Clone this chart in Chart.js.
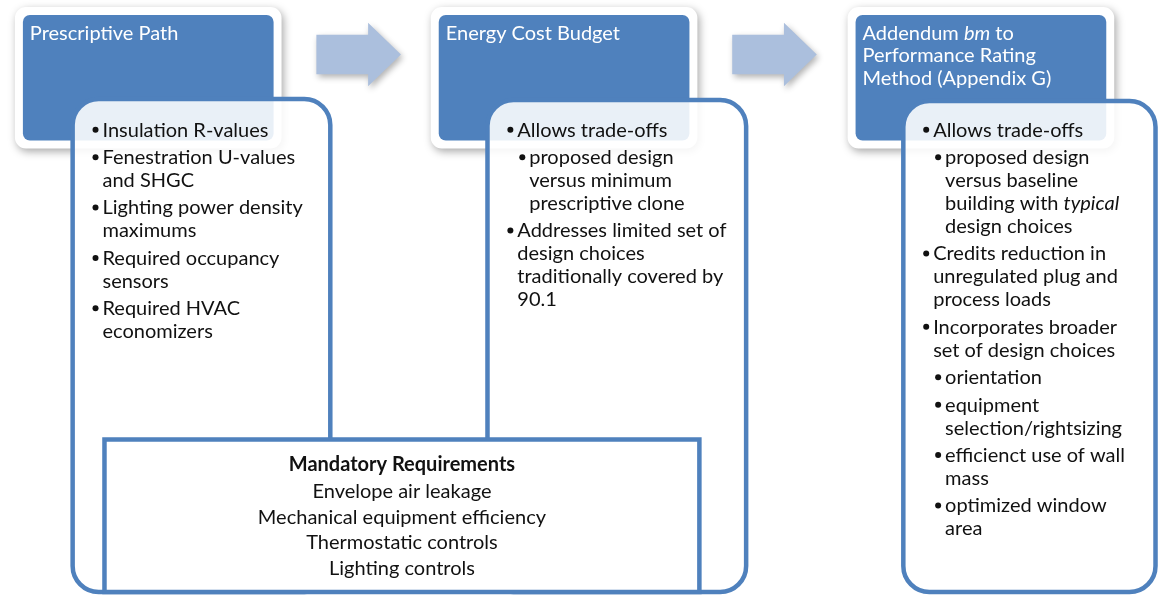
<!DOCTYPE html>
<html>
<head>
<meta charset="utf-8">
<script src="https://cdn.jsdelivr.net/npm/chart.js@4/dist/chart.umd.min.js"></script>
<style>
    html, body { margin: 0; padding: 0; background: #ffffff; }
    #wrap { width: 1161px; height: 599px; }
</style>
</head>
<body>
<div id="wrap"><canvas id="diagram" width="1161" height="599"></canvas></div>
<script>
// Text content of the diagram (italic runs marked with *...*)
const stageTitles = [
    ['Prescriptive Path'],
    ['Energy Cost Budget'],
    ['Addendum *bm* to', 'Performance Rating', 'Method (Appendix G)']
];

// each entry: [indent level, wrapped lines]
const prescriptiveItems = [
    [0, ['Insulation R-values']],
    [0, ['Fenestration U-values', 'and SHGC']],
    [0, ['Lighting power density', 'maximums']],
    [0, ['Required occupancy', 'sensors']],
    [0, ['Required HVAC', 'economizers']]
];
const ecbItems = [
    [0, ['Allows trade-offs']],
    [1, ['proposed design', 'versus minimum', 'prescriptive clone']],
    [0, ['Addresses limited set of', 'design choices', 'traditionally covered by', '90.1']]
];
const appendixGItems = [
    [0, ['Allows trade-offs']],
    [1, ['proposed design', 'versus baseline', 'building with *typical*', 'design choices']],
    [0, ['Credits reduction in', 'unregulated plug and', 'process loads']],
    [0, ['Incorporates broader', 'set of design choices']],
    [1, ['orientation']],
    [1, ['equipment', 'selection/rightsizing']],
    [1, ['efficienct use of wall', 'mass']],
    [1, ['optimized window', 'area']]
];
const stageItems = [prescriptiveItems, ecbItems, appendixGItems];

const mandatoryTitle = 'Mandatory Requirements';
const mandatoryItems = [
    'Envelope air leakage',
    'Mechanical equipment efficiency',
    'Thermostatic controls',
    'Lighting controls'
];

// Layout (in scale units, same as pixels here)
const W = 1161, H = 599;
const headerBoxes = [
    { x: 12, y: 4, w: 268, h: 143 },
    { x: 430, y: 4, w: 268, h: 143 },
    { x: 849, y: 4, w: 268, h: 143 }
];
const contentBoxes = [
    { x: 70, y: 97, w: 259, h: 498 },
    { x: 487, y: 98, w: 260, h: 497 },
    { x: 905, y: 99, w: 253.5, h: 496 }
];
const mandatoryBox = { x: 102, y: 441, w: 598, h: 154 };
const arrows = [315, 733];

const BLUE = '#4f81bd';
const FONT = 'Lato, "Open Sans", sans-serif';
const FONT_SIZE = 20;
const LINE_H = 23.2;
const ITEM_GAP = 4.5;
const FIRST_BASELINE = 135;

// Work out line positions for each list
function layoutList(items, box) {
    const rows = [];
    let y = FIRST_BASELINE;
    items.forEach(([lvl, lines], i) => {
        if (i > 0) y += ITEM_GAP;
        const tx = box.x + 30 + lvl * 12;
        lines.forEach((text, j) => {
            rows.push({ text, x: tx, y, bullet: j === 0 });
            y += LINE_H;
        });
    });
    return rows;
}
const listRows = stageItems.map((items, i) => layoutList(items, contentBoxes[i]));

// bullets are drawn as scatter points
const bulletPoints = [];
listRows.forEach(rows => rows.forEach(r => {
    if (r.bullet) bulletPoints.push({ x: r.x - 7, y: r.y - 7 });
}));

function roundRect(ctx, x, y, w, h, r) {
    ctx.beginPath();
    ctx.moveTo(x + r, y);
    ctx.lineTo(x + w - r, y);
    ctx.arcTo(x + w, y, x + w, y + r, r);
    ctx.lineTo(x + w, y + h - r);
    ctx.arcTo(x + w, y + h, x + w - r, y + h, r);
    ctx.lineTo(x + r, y + h);
    ctx.arcTo(x, y + h, x, y + h - r, r);
    ctx.lineTo(x, y + r);
    ctx.arcTo(x, y, x + r, y, r);
    ctx.closePath();
}

// draws a line with *italic* runs
function drawRich(ctx, text, x, y, weight, align) {
    const parts = text.split('*');
    let total = 0;
    parts.forEach((p, i) => {
        ctx.font = (i % 2 ? 'italic ' : '') + weight + ' ' + FONT_SIZE + 'px ' + FONT;
        total += ctx.measureText(p).width;
    });
    let cx = align === 'center' ? x - total / 2 : x;
    ctx.textAlign = 'left';
    parts.forEach((p, i) => {
        ctx.font = (i % 2 ? 'italic ' : '') + weight + ' ' + FONT_SIZE + 'px ' + FONT;
        ctx.fillText(p, cx, y);
        cx += ctx.measureText(p).width;
    });
}

const diagramPlugin = {
    id: 'diagram',
    beforeDatasetsDraw(chart) {
        const ctx = chart.ctx;
        const sx = chart.scales.x, sy = chart.scales.y;
        const px = v => sx.getPixelForValue(v);
        const py = v => sy.getPixelForValue(v);

        // arrows
        arrows.forEach(ax => {
            ctx.save();
            ctx.shadowColor = 'rgba(0,0,0,0.3)';
            ctx.shadowBlur = 6;
            ctx.shadowOffsetX = 2;
            ctx.shadowOffsetY = 3;
            ctx.fillStyle = '#abbfdd';
            ctx.beginPath();
            ctx.moveTo(px(ax), py(32));
            ctx.lineTo(px(ax + 52), py(32));
            ctx.lineTo(px(ax + 52), py(20));
            ctx.lineTo(px(ax + 85), py(52));
            ctx.lineTo(px(ax + 52), py(84));
            ctx.lineTo(px(ax + 52), py(72));
            ctx.lineTo(px(ax), py(72));
            ctx.closePath();
            ctx.fill();
            ctx.restore();
        });

        // header cards
        headerBoxes.forEach(b => {
            ctx.save();
            ctx.shadowColor = 'rgba(0,0,0,0.35)';
            ctx.shadowBlur = 8;
            ctx.shadowOffsetX = 2;
            ctx.shadowOffsetY = 3;
            ctx.fillStyle = '#ffffff';
            roundRect(ctx, px(b.x), py(b.y), px(b.x + b.w) - px(b.x), py(b.y + b.h) - py(b.y), 11);
            ctx.fill();
            ctx.restore();
            ctx.fillStyle = BLUE;
            roundRect(ctx, px(b.x + 8), py(b.y + 8), px(b.x + b.w - 8) - px(b.x + 8), py(b.y + b.h - 8) - py(b.y + 8), 7);
            ctx.fill();
        });

        // content boxes
        contentBoxes.forEach(b => {
            roundRect(ctx, px(b.x), py(b.y), px(b.x + b.w) - px(b.x), py(b.y + b.h) - py(b.y), 26);
            ctx.fillStyle = 'rgba(255,255,255,0.88)';
            ctx.fill();
            ctx.lineWidth = 4.5;
            ctx.strokeStyle = BLUE;
            ctx.stroke();
        });

        // mandatory requirements box
        const m = mandatoryBox;
        ctx.beginPath();
        ctx.rect(px(m.x), py(m.y), px(m.x + m.w) - px(m.x), py(m.y + m.h) - py(m.y));
        ctx.fillStyle = '#ffffff';
        ctx.fill();
        ctx.lineWidth = 4.5;
        ctx.strokeStyle = BLUE;
        ctx.stroke();
    },
    afterDatasetsDraw(chart) {
        const ctx = chart.ctx;
        const sx = chart.scales.x, sy = chart.scales.y;
        const px = v => sx.getPixelForValue(v);
        const py = v => sy.getPixelForValue(v);
        ctx.save();
        ctx.textBaseline = 'alphabetic';

        // header titles
        ctx.fillStyle = '#ffffff';
        stageTitles.forEach((lines, i) => {
            const b = headerBoxes[i];
            lines.forEach((t, j) => drawRich(ctx, t, px(b.x + 15), py(37 + j * 23), 'normal', 'left'));
        });

        // bullet lists
        ctx.fillStyle = '#111111';
        listRows.forEach(rows => rows.forEach(r => drawRich(ctx, r.text, px(r.x), py(r.y), 'normal', 'left')));

        // mandatory list
        const cx = mandatoryBox.x + mandatoryBox.w / 2;
        drawRich(ctx, mandatoryTitle, px(cx), py(473), 'bold', 'center');
        mandatoryItems.forEach((t, i) => drawRich(ctx, t, px(cx), py(500 + i * 26), 'normal', 'center'));
        ctx.restore();
    }
};

new Chart(document.getElementById('diagram'), {
    type: 'scatter',
    data: {
        datasets: [{
            data: bulletPoints,
            pointRadius: 3,
            pointHoverRadius: 3,
            pointBackgroundColor: '#111111',
            pointBorderWidth: 0
        }]
    },
    options: {
        responsive: false,
        animation: false,
        events: [],
        layout: { padding: 0 },
        plugins: {
            legend: { display: false },
            tooltip: { enabled: false }
        },
        scales: {
            x: { type: 'linear', min: 0, max: W, display: false },
            y: { type: 'linear', min: 0, max: H, reverse: true, display: false }
        }
    },
    plugins: [diagramPlugin]
});
</script>
</body>
</html>
